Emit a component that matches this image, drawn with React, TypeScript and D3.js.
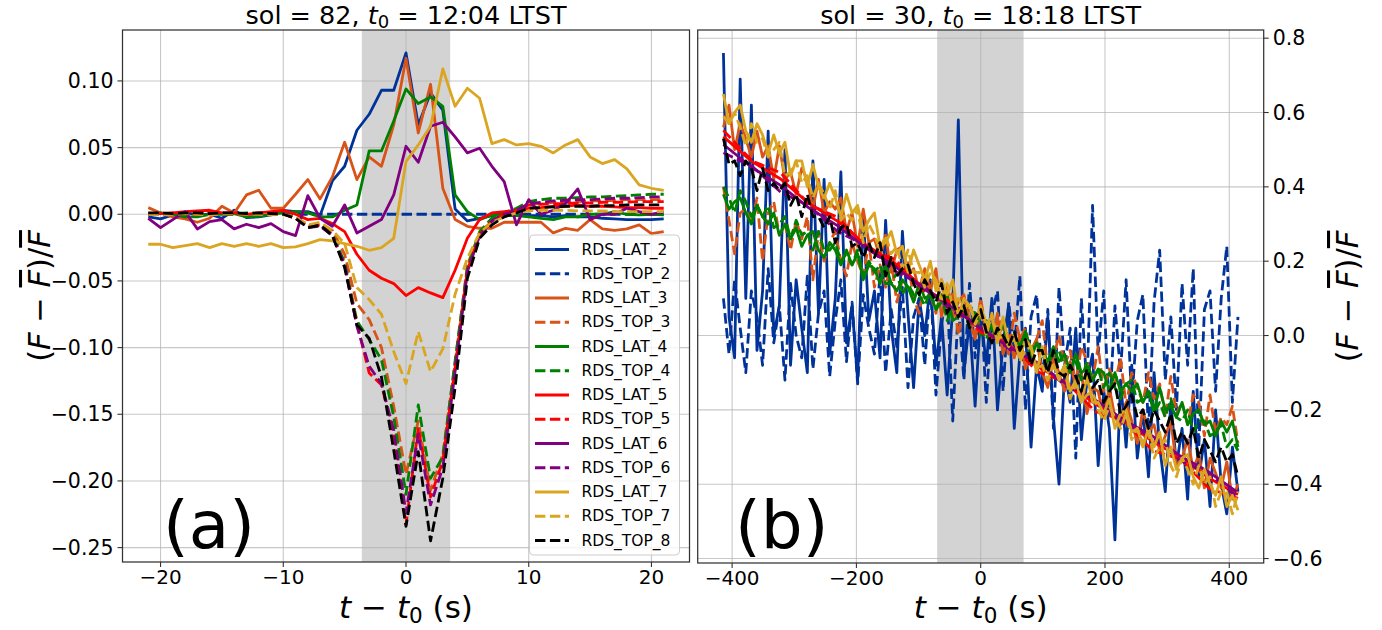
import React from "react";
import * as d3 from "d3";

// ---------- Panel (a) data ----------
const T_A = [-21,-20,-19,-18,-17,-16,-15,-14,-13,-12,-11,-10,-9,-8,-7,-6,-5,-4,-3,-2,-1,0,1,2,3,4,5,6,7,8,9,10,11,12,13,14,15,16,17,18,19,20,21];

const A_LAT_2 = [-0.002,-0.0035,-0.0005,0.0015,-0.0005,0,-0.003,0.003,-0.0025,-0.002,-0.0005,0.003,0.002,0.002,-0.001,
  0.025,0.036,0.063,0.075,0.093,0.093,0.121,0.067,0.091,0.078,0.004,
  -0.005,-0.003,-0.001,0,0,-0.001,-0.001,-0.002,-0.001,-0.002,-0.002,-0.003,-0.0035,-0.004,-0.004,-0.004,-0.0035];
const A_TOP_2 = [0,0,0,0,0,0,0,0,0,0,0,0,0,0,0,0,0,0,0,0,0,0,0,0,0,0,0,0,0,0,0,0,0,0,0,0,0,0,0,0,0,0,0];
const A_LAT_3 = [0.005,0.001,-0.002,-0.0035,-0.006,-0.003,0.006,0.001,0.0145,0.018,0.0045,0.0045,0.015,0.026,0.0115,
  0.028,0.054,0.026,0.043,0.036,0.067,0.117,0.061,0.0975,0.0195,-0.004,
  -0.009,-0.0105,-0.0105,-0.006,-0.006,-0.006,-0.006,-0.014,-0.0105,-0.012,-0.004,-0.011,-0.012,-0.011,-0.008,-0.0145,-0.013];
const A_TOP_3 = [0,0.0005,0,-0.0005,0,0.001,0.0005,0,0.0005,0.001,0.0005,0,
  -0.002,-0.008,-0.008,-0.012,-0.03,-0.067,-0.079,-0.1,-0.144,-0.195,-0.155,-0.207,-0.18,-0.112,-0.038,-0.014,-0.005,0,0.003,0.0075,
  0.008,0.009,0.009,0.0095,0.01,0.01,0.0105,0.011,0.011,0.011,0.011];
const A_LAT_4 = [0,0.001,0,-0.002,-0.002,0,0,0.0005,-0.002,-0.0015,0,0.001,0.002,0.001,-0.002,
  -0.002,0.003,0.007,0.0475,0.0475,0.07,0.094,0.083,0.088,0.081,0.0145,
  0.002,-0.004,-0.0005,-0.001,-0.001,-0.002,-0.003,-0.004,-0.002,-0.002,0,0,0.002,0,-0.0005,0,-0.0005];
const A_TOP_4 = [0.0005,0.001,0.0005,0,0.0005,0.001,0.0005,0.0005,0.001,0.0005,0,0.0005,
  -0.003,-0.009,-0.008,-0.015,-0.036,-0.08,-0.094,-0.109,-0.152,-0.21,-0.143,-0.198,-0.182,-0.11,-0.04,-0.013,-0.003,0.001,0.0045,0.0095,
  0.011,0.012,0.012,0.0125,0.013,0.013,0.0135,0.014,0.0145,0.015,0.015];
const A_LAT_5 = [0,0.0005,0.001,0.002,0.0025,0.003,0.001,0.001,0,0.001,0.002,0.003,0,-0.004,-0.003,
  -0.007,-0.013,-0.03,-0.042,-0.048,-0.052,-0.061,-0.055,-0.059,-0.0625,-0.042,
  -0.018,-0.004,0.001,0.002,0.003,0.0045,0.005,0.006,0.006,0.007,0.006,0.006,0.0055,0.005,0.005,0.0045,0.0045];
const A_TOP_5 = [0,0.0005,0.001,0.0005,0,0.0005,0.001,0.0005,0,0.0005,0.001,0,
  -0.003,-0.009,-0.008,-0.016,-0.038,-0.082,-0.119,-0.128,-0.165,-0.233,-0.16,-0.212,-0.185,-0.115,-0.042,-0.015,-0.005,0,0.003,0.007,
  0.0075,0.008,0.008,0.0085,0.0085,0.009,0.009,0.009,0.0095,0.0095,0.0095];
const A_LAT_6 = [-0.003,-0.01,-0.004,0.002,-0.011,-0.0055,-0.004,-0.011,-0.0075,-0.01,-0.007,-0.013,-0.016,0.014,-0.003,
  -0.009,0.007,-0.014,-0.009,-0.004,0.0145,0.051,0.039,0.066,0.069,0.058,
  0.046,0.0495,0.036,0.0245,-0.008,0.011,0,0.003,0.008,0.019,-0.004,0,0,0.0045,0.002,0,0.002];
const A_TOP_6 = [0.0005,0,0.0005,0.001,0.0005,0,0.0005,0.001,0.0005,0,0.0005,0.0005,
  -0.003,-0.01,-0.009,-0.016,-0.038,-0.084,-0.114,-0.127,-0.162,-0.224,-0.165,-0.218,-0.19,-0.118,-0.043,-0.016,-0.005,0,0.003,0.008,
  0.009,0.01,0.0105,0.011,0.011,0.0115,0.012,0.012,0.0125,0.013,0.013];
const A_LAT_7 = [-0.0225,-0.0225,-0.025,-0.0235,-0.022,-0.025,-0.022,-0.024,-0.022,-0.024,-0.022,-0.025,-0.0245,-0.022,-0.019,
  -0.02,-0.022,-0.024,-0.027,-0.025,-0.018,0.0395,0.052,0.066,0.109,0.081,
  0.0945,0.087,0.053,0.056,0.052,0.053,0.051,0.046,0.052,0.056,0.043,0.038,0.041,0.034,0.022,0.0195,0.018];
const A_TOP_7 = [0,-0.0005,0,0.0005,0,-0.0005,0,0.0005,0,0,-0.0005,0,
  -0.002,-0.008,-0.006,-0.012,-0.022,-0.055,-0.064,-0.075,-0.103,-0.127,-0.088,-0.118,-0.101,-0.06,-0.033,-0.014,-0.006,-0.002,0.001,0.0025,
  0.003,0.003,0.003,0.0025,0.0025,0.0025,0.002,0.002,0.002,0.002,0.002];
const A_TOP_8 = [0.001,0.001,0.0005,0.001,0.001,0.0005,0.001,0.001,0.0005,0.001,0.0005,0,
  -0.003,-0.01,-0.008,-0.016,-0.04,-0.083,-0.093,-0.122,-0.177,-0.234,-0.178,-0.245,-0.198,-0.13,-0.048,-0.018,-0.008,-0.002,0.001,0.0045,
  0.005,0.0055,0.006,0.006,0.006,0.0065,0.0065,0.007,0.007,0.007,0.007];

// ---------- Panel (b) data ----------
const T_B = [-414,-405,-396,-387,-378,-369,-360,-351,-342,-333,
  -324,-315,-306,-297,-288,-279,-270,-261,-252,-243,
  -234,-225,-216,-207,-198,-189,-180,-171,-162,-153,
  -144,-135,-126,-117,-108,-99,-90,-81,-72,-63,
  -54,-45,-36,-27,-18,-9,0,9,18,27,
  36,45,54,63,72,81,90,99,108,117,
  126,135,144,153,162,171,180,189,198,207,
  216,225,234,243,252,261,270,279,288,297,
  306,315,324,333,342,351,360,369,378,387,
  396,405,414];
const T_C = [-414,-368,-322,-276,-230,-184,-138,-92,-46,0,46,92,138,184,230,276,322,368,414];

const B_LAT_2 = [0.76,0.05,-0.06,0.69,0.10,0.62,-0.04,0.12,0.55,0.00,
  0.08,0.50,-0.08,0.15,0.02,-0.10,0.47,0.06,0.42,-0.05,
  0.10,0.44,-0.02,0.08,-0.12,0.33,0.04,0.12,-0.06,0.31,
  0.02,-0.10,0.28,0.06,-0.14,0.10,0.00,0.14,-0.08,0.05,
  -0.16,0.08,0.58,-0.10,0.04,-0.19,0.06,-0.08,0.10,-0.20,
  -0.02,0.08,-0.25,-0.05,0.02,-0.30,-0.08,-0.15,0.05,-0.22,
  -0.40,-0.10,-0.18,0.02,-0.28,-0.12,-0.05,-0.35,-0.15,-0.25,
  -0.55,-0.12,-0.30,-0.08,-0.33,-0.20,-0.38,-0.10,-0.30,-0.42,
  -0.18,-0.35,-0.25,-0.44,-0.15,-0.38,-0.28,-0.46,-0.20,-0.40,
  -0.48,-0.30,-0.42];
const B_TOP_2 = [0.10,-0.05,0.15,0.02,-0.10,0.12,0.05,-0.08,0.18,-0.02,
  0.08,-0.12,0.14,0.00,-0.06,0.16,-0.09,0.06,0.12,-0.11,
  0.04,0.15,-0.07,0.09,-0.13,0.11,0.02,-0.05,0.17,-0.10,
  0.07,-0.03,0.13,-0.14,0.05,0.10,-0.08,0.15,-0.16,0.03,
  0.12,-0.23,0.08,-0.12,0.14,-0.06,0.10,-0.18,0.06,0.12,
  -0.15,0.09,-0.04,0.16,-0.20,0.05,0.11,-0.12,0.07,-0.25,
  0.13,-0.08,0.02,-0.33,0.10,-0.14,0.35,-0.05,0.12,-0.22,
  0.08,-0.10,0.15,-0.18,0.04,0.11,-0.26,0.09,0.23,-0.12,
  0.05,-0.20,0.14,-0.08,0.18,-0.30,0.07,0.12,-0.15,0.10,
  0.24,-0.18,0.05];
const B_LAT_3 = [0.56,0.62,0.50,0.57,0.53,0.48,0.55,0.48,0.51,0.42,
  0.51,0.42,0.44,0.38,0.45,0.42,0.34,0.42,0.33,0.36,
  0.34,0.37,0.28,0.33,0.24,0.34,0.25,0.26,0.21,0.27,
  0.17,0.23,0.24,0.16,0.18,0.12,0.18,0.12,0.18,0.05,
  0.13,0.05,0.09,0.11,0.04,-0.01,0.07,0.02,-0.01,0.05,
  -0.05,0.00,-0.06,0.00,-0.09,-0.04,-0.01,-0.10,-0.14,-0.06,
  -0.10,-0.15,-0.07,-0.14,-0.10,-0.21,-0.14,-0.15,-0.22,-0.14,
  -0.22,-0.24,-0.18,-0.23,-0.29,-0.20,-0.26,-0.24,-0.31,-0.27,
  -0.23,-0.35,-0.33,-0.28,-0.36,-0.32,-0.41,-0.33,-0.37,-0.41,
  -0.34,-0.44,-0.40];
const B_TOP_3 = [0.40,0.31,0.22,0.33,0.34,0.30,0.37,0.20,0.33,0.36,
  0.27,0.30,0.23,0.31,0.26,0.32,0.15,0.28,0.20,0.25,
  0.28,0.20,0.16,0.25,0.20,0.16,0.25,0.13,0.19,0.13,
  0.20,0.09,0.15,0.20,0.10,0.06,0.15,0.11,0.06,0.15,
  0.07,0.12,0.00,0.08,0.08,0.00,0.10,0.01,-0.01,0.06,
  0.01,-0.05,0.06,-0.01,0.02,-0.06,-0.01,0.04,-0.09,-0.06,
  0.00,-0.08,-0.04,-0.13,-0.03,-0.07,-0.12,-0.03,-0.15,-0.09,
  -0.13,-0.06,-0.19,-0.10,-0.14,-0.18,-0.10,-0.17,-0.13,-0.22,
  -0.11,-0.21,-0.18,-0.24,-0.16,-0.18,-0.27,-0.16,-0.26,-0.22,
  -0.24,-0.19,-0.29];
const B_LAT_4 = [0.38,0.34,0.36,0.37,0.33,0.30,0.35,0.32,0.30,0.33,
  0.27,0.30,0.26,0.29,0.24,0.27,0.28,0.23,0.21,0.25,
  0.23,0.19,0.23,0.19,0.22,0.15,0.19,0.18,0.14,0.19,
  0.14,0.12,0.15,0.13,0.09,0.14,0.10,0.11,0.07,0.09,
  0.11,0.04,0.05,0.08,0.03,0.05,0.00,0.04,0.02,-0.01,
  0.04,-0.03,0.00,-0.03,0.01,-0.06,-0.02,-0.04,-0.07,-0.03,
  -0.07,-0.05,-0.10,-0.05,-0.10,-0.09,-0.12,-0.09,-0.10,-0.15,
  -0.10,-0.15,-0.13,-0.15,-0.13,-0.18,-0.15,-0.20,-0.14,-0.20,
  -0.19,-0.22,-0.18,-0.24,-0.21,-0.20,-0.24,-0.23,-0.27,-0.23,
  -0.26,-0.23,-0.30];
const B_TOP_4 = [0.40,0.37,0.33,0.39,0.36,0.32,0.35,0.32,0.35,0.29,
  0.30,0.32,0.26,0.31,0.27,0.28,0.23,0.28,0.23,0.23,
  0.25,0.20,0.22,0.19,0.23,0.16,0.20,0.17,0.19,0.14,
  0.14,0.17,0.11,0.14,0.11,0.11,0.08,0.12,0.07,0.11,
  0.04,0.08,0.06,0.07,0.02,0.07,0.02,-0.01,0.03,0.01,
  0.03,-0.02,0.00,-0.05,0.01,-0.04,-0.02,-0.05,-0.08,-0.05,
  -0.04,-0.09,-0.08,-0.07,-0.12,-0.07,-0.12,-0.09,-0.14,-0.10,
  -0.14,-0.17,-0.13,-0.12,-0.18,-0.17,-0.15,-0.21,-0.18,-0.22,
  -0.17,-0.22,-0.23,-0.20,-0.26,-0.23,-0.23,-0.27,-0.26,-0.24,
  -0.30,-0.28,-0.31];
const B_LAT_5 = [0.535,0.468,0.421,0.355,0.307,0.243,0.194,0.129,0.080,0.017,-0.026,-0.084,-0.127,-0.184,-0.226,-0.285,-0.327,-0.384,-0.428];
const B_TOP_5 = [0.552,0.470,0.438,0.352,0.318,0.236,0.205,0.121,0.090,0.008,-0.020,-0.098,-0.125,-0.204,-0.228,-0.309,-0.333,-0.412,-0.438];
const B_LAT_6 = [0.514,0.452,0.404,0.343,0.295,0.235,0.186,0.126,0.077,0.018,-0.031,-0.075,-0.130,-0.173,-0.227,-0.270,-0.325,-0.368,-0.423];
const B_TOP_6 = [0.492,0.455,0.386,0.348,0.280,0.240,0.173,0.134,0.066,0.027,-0.037,-0.073,-0.137,-0.173,-0.237,-0.273,-0.337,-0.373,-0.436];
const B_LAT_7 = [0.65,0.57,0.60,0.62,0.55,0.52,0.57,0.54,0.49,0.54,
  0.49,0.52,0.43,0.47,0.47,0.40,0.46,0.40,0.37,0.41,
  0.37,0.32,0.38,0.33,0.35,0.28,0.31,0.33,0.24,0.25,
  0.28,0.22,0.24,0.17,0.23,0.19,0.15,0.20,0.12,0.15,
  0.11,0.15,0.05,0.10,0.08,0.04,0.08,0.03,0.05,-0.02,
  0.05,-0.02,-0.01,-0.06,-0.01,-0.03,-0.10,-0.03,-0.10,-0.08,
  -0.11,-0.08,-0.15,-0.12,-0.18,-0.11,-0.18,-0.18,-0.21,-0.17,
  -0.25,-0.21,-0.20,-0.26,-0.25,-0.30,-0.25,-0.30,-0.26,-0.35,
  -0.30,-0.36,-0.33,-0.32,-0.38,-0.41,-0.36,-0.40,-0.43,-0.38,
  -0.46,-0.43,-0.47];
const B_TOP_7 = [0.59,0.57,0.60,0.56,0.51,0.57,0.52,0.53,0.48,0.50,
  0.52,0.43,0.44,0.47,0.41,0.43,0.37,0.41,0.38,0.34,
  0.39,0.31,0.33,0.31,0.34,0.25,0.30,0.27,0.23,0.27,
  0.22,0.24,0.18,0.23,0.17,0.17,0.13,0.17,0.15,0.09,
  0.14,0.08,0.10,0.07,0.09,0.03,0.06,0.00,0.06,-0.01,
  0.00,-0.03,0.00,-0.07,-0.04,-0.03,-0.09,-0.08,-0.12,-0.08,
  -0.12,-0.09,-0.17,-0.13,-0.18,-0.16,-0.15,-0.20,-0.23,-0.19,
  -0.22,-0.25,-0.21,-0.28,-0.25,-0.29,-0.26,-0.33,-0.30,-0.28,
  -0.35,-0.38,-0.33,-0.36,-0.40,-0.35,-0.40,-0.38,-0.46,-0.42,
  -0.42,-0.48,-0.42];
const B_TOP_8 = [0.53,0.46,0.47,0.43,0.47,0.45,0.39,0.45,0.39,0.41,
  0.39,0.41,0.35,0.38,0.32,0.38,0.32,0.32,0.29,0.32,
  0.25,0.29,0.30,0.24,0.25,0.21,0.25,0.21,0.25,0.16,
  0.21,0.16,0.18,0.19,0.14,0.11,0.15,0.12,0.09,0.14,
  0.06,0.09,0.05,0.08,0.02,0.05,0.07,0.01,-0.02,0.02,
  0.00,-0.03,0.01,-0.04,-0.01,-0.08,-0.04,-0.04,-0.10,-0.04,
  -0.10,-0.11,-0.08,-0.11,-0.15,-0.09,-0.14,-0.12,-0.18,-0.15,
  -0.13,-0.21,-0.19,-0.16,-0.22,-0.20,-0.25,-0.20,-0.23,-0.26,
  -0.21,-0.29,-0.26,-0.29,-0.25,-0.33,-0.28,-0.31,-0.34,-0.30,
  -0.34,-0.32,-0.38];

// ---------- Series meta ----------
const NAMES = ["RDS_LAT_2","RDS_TOP_2","RDS_LAT_3","RDS_TOP_3","RDS_LAT_4","RDS_TOP_4","RDS_LAT_5","RDS_TOP_5","RDS_LAT_6","RDS_TOP_6","RDS_LAT_7","RDS_TOP_7","RDS_TOP_8"];
const COLORS = ["#003399","#003399","#d95319","#d95319","#008000","#008000","#ff0000","#ff0000","#800080","#800080","#daa520","#daa520","#000000"];
const DASHED = [false,true,false,true,false,true,false,true,false,true,false,true,true];

const A_VALUES = [A_LAT_2,A_TOP_2,A_LAT_3,A_TOP_3,A_LAT_4,A_TOP_4,A_LAT_5,A_TOP_5,A_LAT_6,A_TOP_6,A_LAT_7,A_TOP_7,A_TOP_8];
const B_TIMES = [T_B,T_B,T_B,T_B,T_B,T_B,T_C,T_C,T_C,T_C,T_B,T_B,T_B];
const B_VALUES = [B_LAT_2,B_TOP_2,B_LAT_3,B_TOP_3,B_LAT_4,B_TOP_4,B_LAT_5,B_TOP_5,B_LAT_6,B_TOP_6,B_LAT_7,B_TOP_7,B_TOP_8];

const XTICKS_A = [-20,-10,0,10,20];
const YTICKS_A = [-0.25,-0.2,-0.15,-0.1,-0.05,0,0.05,0.1];
const XTICKS_B = [-400,-200,0,200,400];
const YTICKS_B = [-0.6,-0.4,-0.2,0,0.2,0.4,0.6,0.8];
const BAND_A = [-3.6, 3.6];
const BAND_B = [-70, 69];

const FONT = "DejaVu Sans";
const LW = 2.8;
const DASH = "10.4 4.5";

export default function App() {
  const A = { x0: 122.5, x1: 689.5, y0: 30, y1: 562 };
  const B = { x0: 697.7, x1: 1263.7, y0: 30, y1: 563 };
  const xA = d3.scaleLinear().domain([-23.1, 23.1]).range([A.x0, A.x1]);
  const yA = d3.scaleLinear().domain([-0.2608, 0.1382]).range([A.y1, A.y0]);
  const xB = d3.scaleLinear().domain([-455.4, 455.4]).range([B.x0, B.x1]);
  const yB = d3.scaleLinear().domain([-0.612, 0.822]).range([B.y1, B.y0]);
  const fA = d3.format(".2f");
  const fB = d3.format(".1f");
  const fX = d3.format("d");

  const pathA = (vals: number[]) =>
    d3.line<number>().x((_, i) => xA(T_A[i])).y((d) => yA(d))(vals) || "";
  const pathB = (ts: number[], vals: number[]) =>
    d3.line<number>().x((_, i) => xB(ts[i])).y((d) => yB(d))(vals) || "";

  const gridColor = "#b0b0b0";
  const spine = "#333333";

  const yLabel = (x: number, y: number) => (
    <text transform={`translate(${x},${y}) rotate(-90)`} textAnchor="middle" fontSize={30.5} fontFamily={FONT}>
      (<tspan fontStyle="italic">F</tspan> − <tspan fontStyle="italic" style={{ textDecoration: "overline" }}>F</tspan>)/<tspan fontStyle="italic" style={{ textDecoration: "overline" }}>F</tspan>
    </text>
  );
  const xLabel = (x: number, y: number) => (
    <text x={x} y={y} textAnchor="middle" fontSize={31} fontFamily={FONT}>
      <tspan fontStyle="italic">t</tspan> − <tspan fontStyle="italic">t</tspan>
      <tspan fontSize={21.5} dy={5}>0</tspan>
      <tspan dy={-5}> (s)</tspan>
    </text>
  );
  const title = (x: number, sol: string, t0: string) => (
    <text x={x} y={24} textAnchor="middle" fontSize={25.5} fontFamily={FONT}>
      sol = {sol}, <tspan fontStyle="italic">t</tspan>
      <tspan fontSize={18} dy={4}>0</tspan>
      <tspan dy={-4}> = {t0} LTST</tspan>
    </text>
  );

  return (
    <svg width={1382} height={630} style={{ position: "absolute", left: 0, top: 0 }} fontFamily={FONT}>
      <defs>
        <clipPath id="clipA"><rect x={A.x0} y={A.y0} width={A.x1 - A.x0} height={A.y1 - A.y0} /></clipPath>
        <clipPath id="clipB"><rect x={B.x0} y={B.y0} width={B.x1 - B.x0} height={B.y1 - B.y0} /></clipPath>
      </defs>
      <rect x={0} y={0} width={1382} height={630} fill="#ffffff" />

      {/* ---------- Panel (a) ---------- */}
      <rect x={xA(BAND_A[0])} y={A.y0} width={xA(BAND_A[1]) - xA(BAND_A[0])} height={A.y1 - A.y0} fill="#d3d3d3" />
      {XTICKS_A.map((t) => (
        <line key={"gxa" + t} x1={xA(t)} x2={xA(t)} y1={A.y0} y2={A.y1} stroke={gridColor} strokeOpacity={0.7} strokeWidth={1.1} />
      ))}
      {YTICKS_A.map((v) => (
        <line key={"gya" + v} x1={A.x0} x2={A.x1} y1={yA(v)} y2={yA(v)} stroke={gridColor} strokeOpacity={0.7} strokeWidth={1.1} />
      ))}
      <g clipPath="url(#clipA)">
        {A_VALUES.map((vals, i) => (
          <path key={"la" + i} d={pathA(vals)} fill="none" stroke={COLORS[i]} strokeWidth={LW}
            strokeDasharray={DASHED[i] ? DASH : undefined} strokeLinejoin="round" />
        ))}
      </g>
      <text x={163} y={548} fontSize={66} fontFamily={FONT}>(a)</text>
      {/* legend */}
      <rect x={529.5} y={235} width={150} height={320} rx={4} fill="#ffffff" fillOpacity={0.8} stroke="#cccccc" strokeWidth={1} />
      {NAMES.map((n, i) => {
        const ly = 249.5 + 24.25 * i;
        return (
          <g key={"lg" + i}>
            <line x1={535} x2={569} y1={ly} y2={ly} stroke={COLORS[i]} strokeWidth={LW} strokeDasharray={DASHED[i] ? DASH : undefined} />
            <text x={581.5} y={ly} dominantBaseline="central" fontSize={15.5} fontFamily={FONT}>{n}</text>
          </g>
        );
      })}
      <rect x={A.x0} y={A.y0} width={A.x1 - A.x0} height={A.y1 - A.y0} fill="none" stroke={spine} strokeWidth={1.25} />
      {XTICKS_A.map((t) => (
        <g key={"txa" + t}>
          <line x1={xA(t)} x2={xA(t)} y1={A.y1} y2={A.y1 + 5} stroke={spine} strokeWidth={1.1} />
          <text x={xA(t)} y={A.y1 + 22} textAnchor="middle" fontSize={20}>{fX(t)}</text>
        </g>
      ))}
      {YTICKS_A.map((v) => (
        <g key={"tya" + v}>
          <line x1={A.x0 - 5} x2={A.x0} y1={yA(v)} y2={yA(v)} stroke={spine} strokeWidth={1.1} />
          <text x={A.x0 - 9} y={yA(v)} textAnchor="end" dominantBaseline="central" fontSize={20.5}>{fA(v)}</text>
        </g>
      ))}
      {title((A.x0 + A.x1) / 2, "82", "12:04")}
      {xLabel((A.x0 + A.x1) / 2, 618)}
      {yLabel(50, (A.y0 + A.y1) / 2)}

      {/* ---------- Panel (b) ---------- */}
      <rect x={xB(BAND_B[0])} y={B.y0} width={xB(BAND_B[1]) - xB(BAND_B[0])} height={B.y1 - B.y0} fill="#d3d3d3" />
      {XTICKS_B.map((t) => (
        <line key={"gxb" + t} x1={xB(t)} x2={xB(t)} y1={B.y0} y2={B.y1} stroke={gridColor} strokeOpacity={0.7} strokeWidth={1.1} />
      ))}
      {YTICKS_B.map((v) => (
        <line key={"gyb" + v} x1={B.x0} x2={B.x1} y1={yB(v)} y2={yB(v)} stroke={gridColor} strokeOpacity={0.7} strokeWidth={1.1} />
      ))}
      <g clipPath="url(#clipB)">
        {B_VALUES.map((vals, i) => (
          <path key={"lb" + i} d={pathB(B_TIMES[i], vals)} fill="none" stroke={COLORS[i]} strokeWidth={LW}
            strokeDasharray={DASHED[i] ? DASH : undefined} strokeLinejoin="round" />
        ))}
      </g>
      <text x={735} y={548} fontSize={66} fontFamily={FONT}>(b)</text>
      <rect x={B.x0} y={B.y0} width={B.x1 - B.x0} height={B.y1 - B.y0} fill="none" stroke={spine} strokeWidth={1.25} />
      {XTICKS_B.map((t) => (
        <g key={"txb" + t}>
          <line x1={xB(t)} x2={xB(t)} y1={B.y1} y2={B.y1 + 5} stroke={spine} strokeWidth={1.1} />
          <text x={xB(t)} y={B.y1 + 22} textAnchor="middle" fontSize={20}>{fX(t)}</text>
        </g>
      ))}
      {YTICKS_B.map((v) => (
        <g key={"tyb" + v}>
          <line x1={B.x1} x2={B.x1 + 5} y1={yB(v)} y2={yB(v)} stroke={spine} strokeWidth={1.1} />
          <text x={B.x1 + 9} y={yB(v)} textAnchor="start" dominantBaseline="central" fontSize={20.5}>{fB(v)}</text>
        </g>
      ))}
      {title((B.x0 + B.x1) / 2, "30", "18:18")}
      {xLabel((B.x0 + B.x1) / 2, 618)}
      {yLabel(1358, (B.y0 + B.y1) / 2)}
    </svg>
  );
}
